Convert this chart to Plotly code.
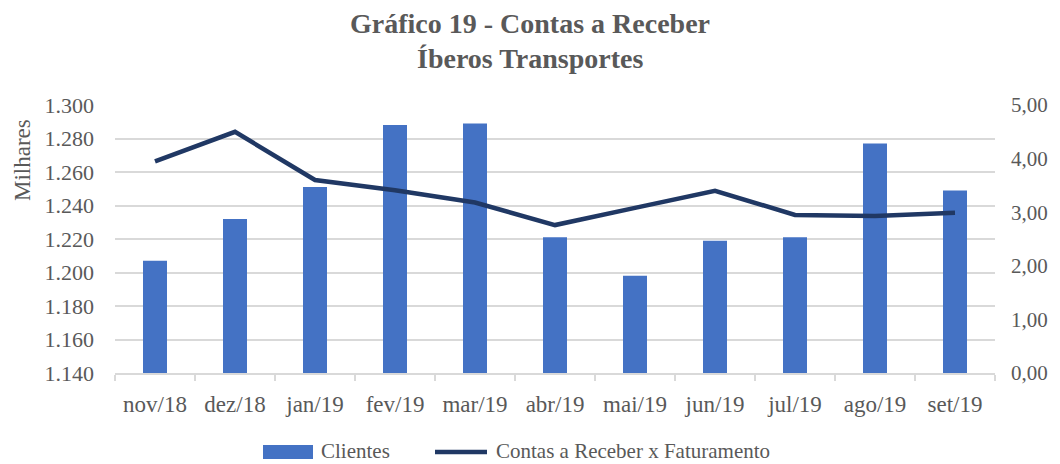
import plotly.graph_objects as go

categories = ["nov/18", "dez/18", "jan/19", "fev/19", "mar/19", "abr/19",
              "mai/19", "jun/19", "jul/19", "ago/19", "set/19"]
clientes = [1207, 1232, 1251, 1288, 1289, 1221, 1198, 1219, 1221, 1277, 1249]
contas_fat = [3.95, 4.50, 3.60, 3.41, 3.18, 2.76, 3.08, 3.40, 2.95, 2.93, 2.99]

title_lines = ["Gráfico 19 - Contas a Receber", "Íberos Transportes"]
series_names = ["Clientes", "Contas a Receber x Faturamento"]

FONT = "Liberation Serif"
GREY = "#595959"
GRID = "#d9d9d9"
BAR_COLOR = "#4472C4"
LINE_COLOR = "#203864"

# page body adds an 8px margin; compensate so the picture lands on 1060x464
OFF = 8
W, H = 1060 - OFF, 464 - OFF
L, R, T, B = 115 - OFF, 65, 105 - OFF, 91
PW, PH = W - L - R, H - T - B


def px(xp):
    return (xp - OFF - L) / PW


def py(yp):
    return (H - B - (yp - OFF)) / PH


fig = go.Figure()
fig.add_trace(go.Bar(
    x=categories, y=clientes, name=series_names[0],
    marker=dict(color=BAR_COLOR, line=dict(width=0)),
    width=0.3, yaxis="y", showlegend=False,
))
fig.add_trace(go.Scatter(
    x=categories, y=contas_fat, name=series_names[1],
    mode="lines", line=dict(color=LINE_COLOR, width=4.5), yaxis="y2",
    showlegend=False,
))

annotations = [
    dict(text="<b>" + title_lines[0] + "</b>", x=px(530), xref="paper", y=py(24),
         yref="paper", xanchor="center", yanchor="middle", showarrow=False,
         font=dict(family=FONT, size=28, color=GREY)),
    dict(text="<b>" + title_lines[1] + "</b>", x=px(530), xref="paper", y=py(58),
         yref="paper", xanchor="center", yanchor="middle", showarrow=False,
         font=dict(family=FONT, size=28, color=GREY)),
    dict(text="Milhares", x=px(22), xref="paper", y=py(160), yref="paper",
         xanchor="center", yanchor="middle", textangle=-90, showarrow=False,
         font=dict(family=FONT, size=23, color=GREY)),
    dict(text=series_names[0], x=px(319), xref="paper", y=py(451), yref="paper",
         xanchor="left", yanchor="middle", showarrow=False,
         font=dict(family=FONT, size=21, color=GREY)),
    dict(text=series_names[1], x=px(494), xref="paper", y=py(451), yref="paper",
         xanchor="left", yanchor="middle", showarrow=False,
         font=dict(family=FONT, size=21, color=GREY)),
]

shapes = [
    dict(type="rect", xref="paper", yref="paper", x0=px(263), x1=px(313),
         y0=py(459), y1=py(445), fillcolor=BAR_COLOR, line=dict(width=0)),
    dict(type="line", xref="paper", yref="paper", x0=px(435), x1=px(487),
         y0=py(452), y1=py(452), line=dict(color=LINE_COLOR, width=4.5)),
]

fig.update_layout(
    width=W, height=H,
    paper_bgcolor="white", plot_bgcolor="white",
    separators=",.",
    font=dict(family=FONT, color=GREY, size=20),
    margin=dict(l=L, r=R, t=T, b=B, autoexpand=False),
    showlegend=False,
    xaxis=dict(
        automargin=False,
        showline=True, linecolor=GRID, linewidth=1.5,
        ticks="outside", tickson="boundaries", ticklen=6, tickcolor=GRID,
        tickwidth=1.5, ticklabelstandoff=10,
        showgrid=False, tickfont=dict(size=23, color=GREY),
    ),
    yaxis=dict(
        automargin=False,
        range=[1140, 1300], dtick=20, tickformat=",d",
        showgrid=True, gridcolor=GRID, gridwidth=1.5, zeroline=False,
        showline=False, ticks="", ticklabelstandoff=20,
        tickfont=dict(size=22, color=GREY),
    ),
    yaxis2=dict(
        automargin=False,
        range=[0, 5], dtick=1, tickformat=".2f",
        overlaying="y", side="right", showgrid=False, zeroline=False,
        showline=False, ticks="", ticklabelstandoff=15,
        tickfont=dict(size=21, color=GREY),
    ),
    annotations=annotations,
    shapes=shapes,
)

fig.write_html("out.html")
